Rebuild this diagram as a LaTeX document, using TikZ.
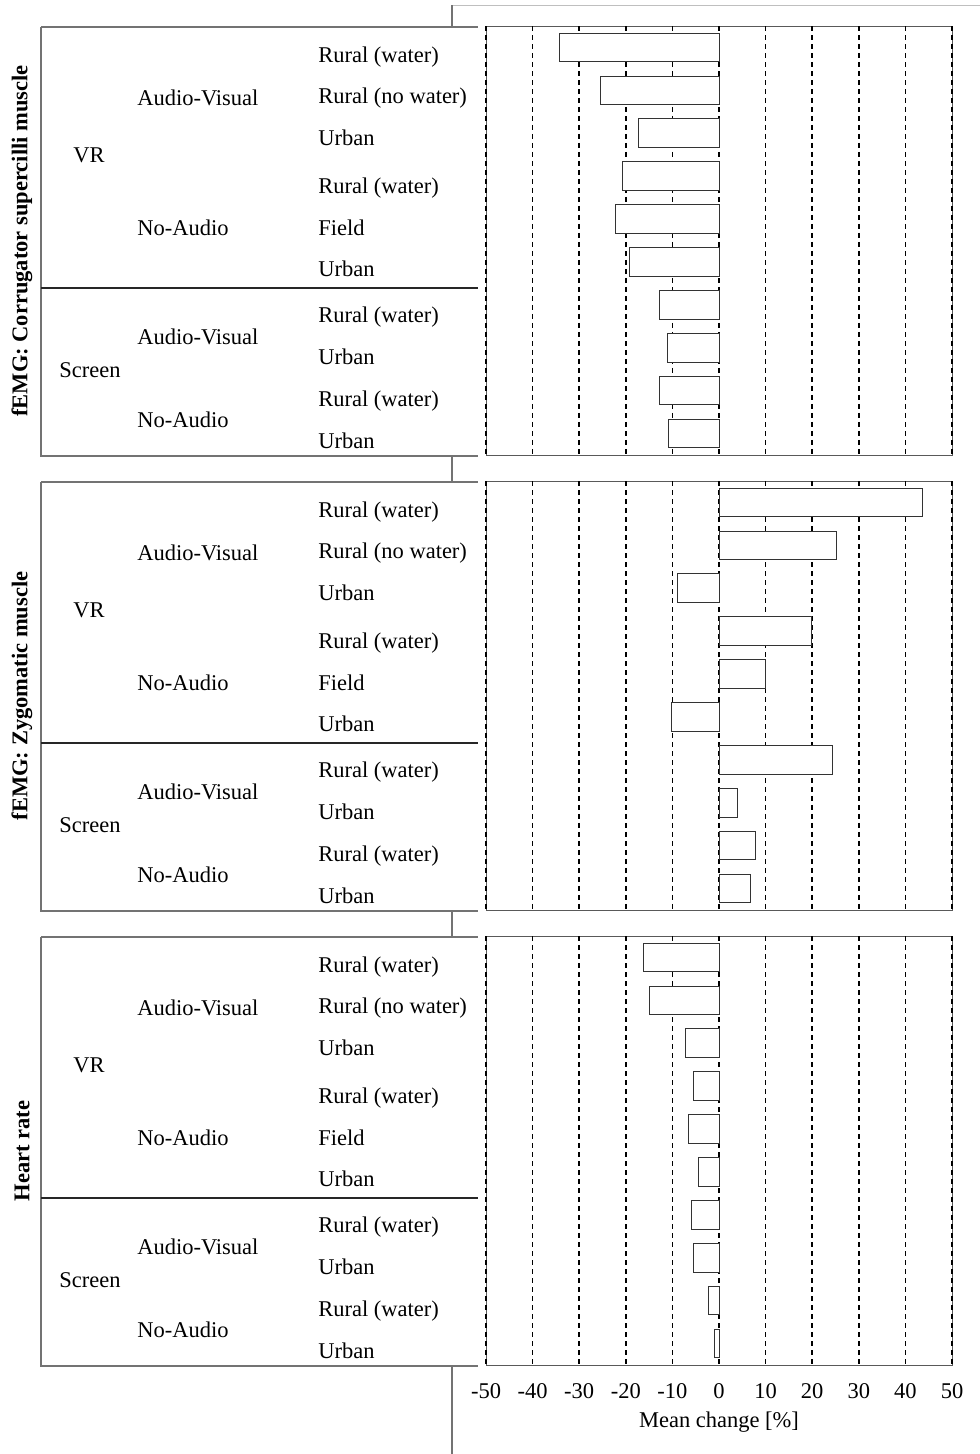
\documentclass[tikz,border=0pt]{standalone}
\usepackage{fontspec}
\setmainfont{Liberation Serif}
\usepackage{tikz}
\tikzset{
	griddash/.style={line width=1.2pt, dash pattern=on 3.6pt off 2.8pt, black},
	framegray/.style={line width=0.7pt, black!65},
	barline/.style={line width=0.7pt, black!80, fill=white},
	tablegray/.style={line width=0.8pt, black!55},
	tabledark/.style={line width=0.8pt, black!85},
	paleline/.style={line width=0.6pt, black!25},
	cond/.style={anchor=west, inner sep=0pt, yshift=-0.04cm},
	measure/.style={rotate=90, inner sep=0pt, font=\fontsize{16}{19}\selectfont\bfseries}
}
\newcommand{\plotframe}{\draw[framegray] (486,26) rectangle (952,455);
					\draw[griddash] (486,26) -- (486,455);
					\draw[griddash] (532.6,26) -- (532.6,455);
					\draw[griddash] (579.2,26) -- (579.2,455);
					\draw[griddash] (625.8,26) -- (625.8,455);
					\draw[griddash] (672.4,26) -- (672.4,455);
					\draw[griddash] (719,26) -- (719,455);
					\draw[griddash] (765.6,26) -- (765.6,455);
					\draw[griddash] (812.2,26) -- (812.2,455);
					\draw[griddash] (858.8,26) -- (858.8,455);
					\draw[griddash] (905.4,26) -- (905.4,455);
					\draw[griddash] (952,26) -- (952,455);}
\newcommand{\meanbar}[2]{\draw[barline] (719,{26+(#1-0.5)*42.9-14.3}) rectangle ({719+4.66*(#2)},{26+(#1-0.5)*42.9+14.3});}
\newcommand{\condtable}[2]{\draw[tablegray] (41,27) -- (478,27);
					\draw[tablegray] (41,27) -- (41,456) -- (478,456);
					\draw[tabledark] (41,288) -- (478,288);
					\node[cond] (#1vr) at (73,154) {VR};
					\node[cond] (#1screen) at (59,369) {Screen};
					\node[cond] (#1avvr) at (137,96) {Audio-Visual};
					\node[cond] (#1navr) at (137,226) {No-Audio};
					\node[cond] (#1avscreen) at (137,335) {Audio-Visual};
					\node[cond] (#1nascreen) at (137,418) {No-Audio};
					\node[cond] (#1sa) at (318,55) {Rural (water)};
					\node[cond] (#1sb) at (318,96) {Rural (no water)};
					\node[cond] (#1sc) at (318,136) {Urban};
					\node[cond] (#1sd) at (318,186) {Rural (water)};
					\node[cond] (#1se) at (318,226) {Field};
					\node[cond] (#1sf) at (318,267) {Urban};
					\node[cond] (#1sg) at (318,315) {Rural (water)};
					\node[cond] (#1sh) at (318,355) {Urban};
					\node[cond] (#1si) at (318,399) {Rural (water)};
					\node[cond] (#1sj) at (318,439) {Urban};
					\node[measure] (#1title) at (22,241) {#2};}

\begin{document}
\begin{tikzpicture}[x=0.025cm, y=-0.025cm, font=\fontsize{16}{19}\selectfont]
				\useasboundingbox (0,0) rectangle (980,1454);
				
				% pale page edges
				\draw[paleline] (452,5) -- (980,5);
				\draw[tablegray] (452,5) -- (452,27);
				\draw[tablegray] (452,456) -- (452,482);
				\draw[tablegray] (452,911) -- (452,937);
				\draw[tablegray] (452,1366) -- (452,1454);
				
					% corrugator
					\begin{scope}[shift={(0,0)}]
						\condtable{cor}{fEMG: Corrugator supercilli muscle}
						\plotframe
						\meanbar{1}{-34.3}
						\meanbar{2}{-25.4}
						\meanbar{3}{-17.2}
						\meanbar{4}{-20.7}
						\meanbar{5}{-22.3}
						\meanbar{6}{-19.2}
						\meanbar{7}{-12.8}
						\meanbar{8}{-11.0}
						\meanbar{9}{-12.8}
						\meanbar{10}{-10.9}
					\end{scope}
					
					% zygomatic
					\begin{scope}[shift={(0,455)}]
						\condtable{zyg}{fEMG: Zygomatic muscle}
						\plotframe
						\meanbar{1}{43.7}
						\meanbar{2}{25.3}
						\meanbar{3}{-9.0}
						\meanbar{4}{19.9}
						\meanbar{5}{10.0}
						\meanbar{6}{-10.1}
						\meanbar{7}{24.4}
						\meanbar{8}{4.0}
						\meanbar{9}{7.9}
						\meanbar{10}{6.7}
					\end{scope}
					
					% heart rate
					\begin{scope}[shift={(0,910)}]
						\condtable{hr}{Heart rate}
						\plotframe
						\meanbar{1}{-16.1}
						\meanbar{2}{-15.0}
						\meanbar{3}{-7.2}
						\meanbar{4}{-5.5}
						\meanbar{5}{-6.6}
						\meanbar{6}{-4.5}
						\meanbar{7}{-5.9}
						\meanbar{8}{-5.4}
						\meanbar{9}{-2.2}
						\meanbar{10}{-0.9}
					\end{scope}
					
					% axis
					\node (tickma) at (486,1391) {-50};
					\node (tickmb) at (532.6,1391) {-40};
					\node (tickmc) at (579.2,1391) {-30};
					\node (tickmd) at (625.8,1391) {-20};
					\node (tickme) at (672.4,1391) {-10};
					\node (tickz) at (719,1391) {0};
					\node (tickpa) at (765.6,1391) {10};
					\node (tickpb) at (812.2,1391) {20};
					\node (tickpc) at (858.8,1391) {30};
					\node (tickpd) at (905.4,1391) {40};
					\node (tickpe) at (952,1391) {50};
					\node (axistitle) at (719,1422) {Mean change [\%]};
					
				\end{tikzpicture}
\end{document}
